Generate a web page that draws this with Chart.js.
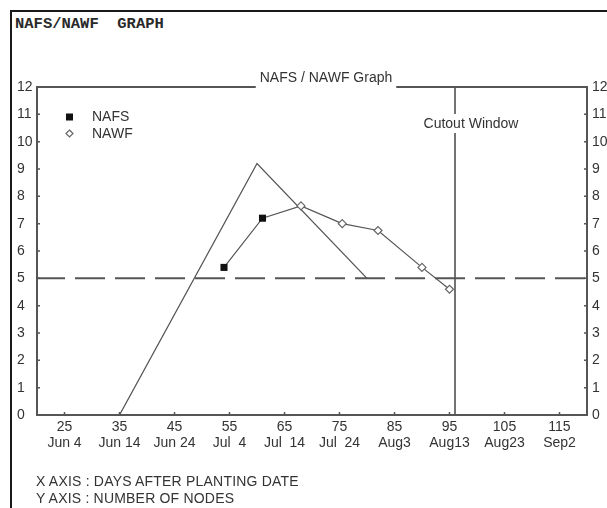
<!DOCTYPE html>
<html>
<head>
<meta charset="utf-8">
<script src="https://cdn.jsdelivr.net/npm/chart.js@4/dist/chart.umd.min.js"></script>
<style>
  html, body { margin: 0; padding: 0; background: #fff; overflow: hidden; }
  #page { position: relative; width: 607px; height: 508px; overflow: hidden; }
  #frame { position: absolute; left: 10px; top: 10px; width: 800px; height: 700px;
           border-left: 2px solid #1a1a1a; border-top: 2px solid #1a1a1a; }
  #head { position: absolute; left: 15px; top: 15px; font: bold 15.5px "Liberation Mono", monospace;
          color: #2a2a2a; white-space: pre; }
  .foot { position: absolute; left: 36px; font: 14px "Liberation Sans", Arial, sans-serif; color: #333;
          white-space: pre; letter-spacing: 0.2px; }
  #chart { position: absolute; left: 0; top: 0; }
</style>
</head>
<body>
<div id="page">
  <div id="frame"></div>
  <div id="head">NAFS/NAWF  GRAPH</div>
  <canvas id="chart" width="607" height="508"></canvas>
  <div class="foot" style="top:473px">X AXIS : DAYS AFTER PLANTING DATE</div>
  <div class="foot" style="top:490px">Y AXIS : NUMBER OF NODES</div>
</div>
<script>
// days after planting / calendar date under each tick
const tickDays  = [25, 35, 45, 55, 65, 75, 85, 95, 105, 115];
const tickDates = ["Jun 4", "Jun 14", "Jun 24", "Jul  4", "Jul  14", "Jul  24", "Aug3", "Aug13", "Aug23", "Sep2"];

// predicted node curve
const curveDays  = [35, 60, 80];
const curveNodes = [0, 9.2, 5];

// NAFS observations
const nafsDays  = [54, 61];
const nafsNodes = [5.4, 7.2];

// NAWF observations
const nawfDays  = [68, 75.5, 82, 90, 95];
const nawfNodes = [7.65, 7.0, 6.75, 5.4, 4.6];

const thresholdNodes = 5;
const cutoutDay = 96;
const dayRange = [20, 120];
const nodeRange = [0, 12];

const pts = (xs, ys) => xs.map((x, i) => ({ x: x, y: ys[i] }));

const FONT = '"Liberation Sans", Arial, sans-serif';
const INK = '#333';
const LINE = '#555';

Chart.defaults.font.family = FONT;
Chart.defaults.font.size = 14;
Chart.defaults.color = INK;

const extras = {
  id: 'extras',
  afterDraw(chart) {
    const ctx = chart.ctx;
    const a = chart.chartArea;
    const xs = chart.scales.x, ys = chart.scales.y;
    ctx.save();

    // plot frame
    ctx.strokeStyle = LINE;
    ctx.lineWidth = 2;
    ctx.strokeRect(a.left, a.top, a.right - a.left, a.bottom - a.top);

    // inward tick marks
    ctx.lineWidth = 1.5;
    ctx.beginPath();
    tickDays.forEach(d => {
      const px = xs.getPixelForValue(d);
      ctx.moveTo(px, a.bottom); ctx.lineTo(px, a.bottom - 3);
    });
    ys.ticks.forEach(t => {
      if (t.value === nodeRange[0] || t.value === nodeRange[1]) return;
      const py = ys.getPixelForValue(t.value);
      ctx.moveTo(a.left, py); ctx.lineTo(a.left + 3, py);
      ctx.moveTo(a.right, py); ctx.lineTo(a.right - 3, py);
    });
    ctx.stroke();

    ctx.font = '14px ' + FONT;
    ctx.textBaseline = 'middle';

    // title sitting on the top frame line
    const title = 'NAFS / NAWF Graph';
    const tw = ctx.measureText(title).width;
    const tx = 326;
    ctx.fillStyle = '#fff';
    ctx.fillRect(tx - tw / 2 - 4, a.top - 16, tw + 8, 20);
    ctx.fillStyle = INK;
    ctx.textAlign = 'center';
    ctx.fillText(title, tx, a.top - 9);

    // cutout window label over the vertical line
    const cut = 'Cutout Window';
    const cw = ctx.measureText(cut).width;
    const cx = xs.getPixelForValue(cutoutDay) + 16;
    const cy = 124;
    ctx.fillStyle = '#fff';
    ctx.fillRect(cx - cw / 2, cy - 10, cw, 19);
    ctx.fillStyle = INK;
    ctx.fillText(cut, cx, cy);

    // legend
    ctx.textAlign = 'left';
    ctx.fillStyle = '#111';
    ctx.fillRect(66, 113.5, 7, 7);
    ctx.fillStyle = INK;
    ctx.fillText('NAFS', 92, 117);
    ctx.strokeStyle = '#666';
    ctx.lineWidth = 1.2;
    ctx.beginPath();
    ctx.moveTo(69.5, 130); ctx.lineTo(73, 133.5); ctx.lineTo(69.5, 137); ctx.lineTo(66, 133.5); ctx.closePath();
    ctx.stroke();
    ctx.fillText('NAWF', 92, 134);

    ctx.restore();
  }
};

new Chart(document.getElementById('chart'), {
  type: 'scatter',
  data: {
    datasets: [
      {
        label: 'NAFS',
        data: pts(nafsDays, nafsNodes),
        pointStyle: 'rect',
        pointRadius: 5,
        backgroundColor: '#111',
        borderColor: '#111',
        borderWidth: 0,
        showLine: false
      },
      {
        label: 'NAWF',
        data: pts(nawfDays, nawfNodes),
        pointStyle: 'rectRot',
        pointRadius: 4,
        backgroundColor: '#fff',
        borderColor: '#666',
        borderWidth: 1.2,
        showLine: false
      },
      {
        label: 'observed',
        data: pts(nafsDays.concat(nawfDays), nafsNodes.concat(nawfNodes)),
        showLine: true,
        pointRadius: 0,
        borderColor: LINE,
        borderWidth: 1.2
      },
      {
        label: 'curve',
        data: pts(curveDays, curveNodes),
        showLine: true,
        pointRadius: 0,
        borderColor: LINE,
        borderWidth: 1.3
      },
      {
        label: 'threshold',
        data: pts(dayRange, [thresholdNodes, thresholdNodes]),
        showLine: true,
        pointRadius: 0,
        borderColor: LINE,
        borderWidth: 2,
        borderDash: [30, 10],
        borderDashOffset: 2
      },
      {
        label: 'cutout',
        data: pts([cutoutDay, cutoutDay], nodeRange),
        showLine: true,
        pointRadius: 0,
        borderColor: '#444',
        borderWidth: 1.5
      }
    ]
  },
  options: {
    responsive: false,
    animation: false,
    clip: false,
    layout: { padding: { left: 17, right: 0, top: 87, bottom: 53 } },
    plugins: { legend: { display: false }, title: { display: false }, tooltip: { enabled: false } },
    scales: {
      x: {
        type: 'linear',
        min: dayRange[0], max: dayRange[1],
        grid: { display: false, drawTicks: false },
        border: { display: false },
        afterBuildTicks: s => { s.ticks = tickDays.map(v => ({ value: v })); },
        afterFit: s => { s.height = 40; },
        ticks: {
          autoSkip: false, maxRotation: 0, padding: 4,
          font: { size: 14, lineHeight: 1.15 },
          callback: (v) => [String(v), tickDates[tickDays.indexOf(v)]]
        }
      },
      y: {
        position: 'left',
        min: nodeRange[0], max: nodeRange[1],
        grid: { display: false, drawTicks: false },
        border: { display: false },
        afterFit: s => { s.width = 20; },
        ticks: { stepSize: 1, crossAlign: 'far', padding: 4 }
      },
      y2: {
        position: 'right',
        min: nodeRange[0], max: nodeRange[1],
        grid: { display: false, drawTicks: false },
        border: { display: false },
        afterFit: s => { s.width = 20; },
        ticks: { stepSize: 1, padding: 5 }
      }
    }
  },
  plugins: [extras]
});
</script>
</body>
</html>
